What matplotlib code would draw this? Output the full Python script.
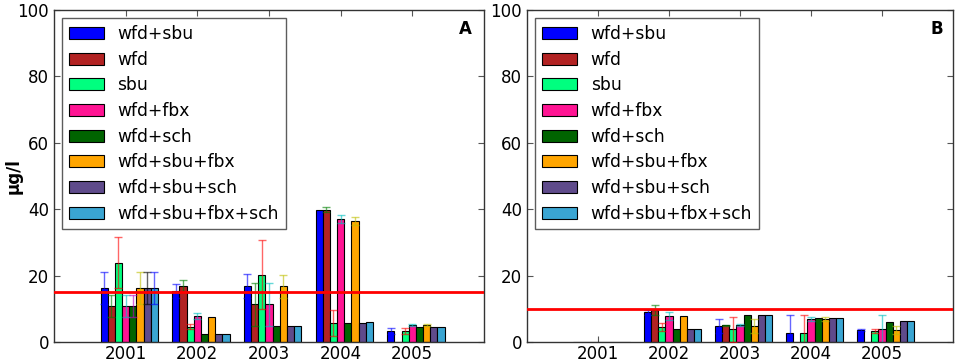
import matplotlib
matplotlib.use("Agg")
import matplotlib.pyplot as plt
import numpy as np

years = [2001, 2002, 2003, 2004, 2005]
series = ["wfd+sbu", "wfd", "sbu", "wfd+fbx", "wfd+sch",
          "wfd+sbu+fbx", "wfd+sbu+sch", "wfd+sbu+fbx+sch"]
bar_colors = ["#0000ff", "#b22222", "#00ff7f", "#ff1493", "#006400",
              "#ffa500", "#5f4b8b", "#3aa5d2"]
err_colors = ["b", "g", "r", "c", "m", "y", "k", "b"]

# Panel A values
a_wfd_sbu = [16.4, 15.4, 16.8, 39.9, 3.3]
a_wfd = [10.8, 16.9, 11.3, 39.9, 0]
a_sbu = [23.9, 4.6, 20.3, 5.6, 3.3]
a_wfd_fbx = [10.8, 7.8, 11.3, 37.1, 5.0]
a_wfd_sch = [10.8, 2.5, 4.9, 5.8, 4.5]
a_wfd_sbu_fbx = [16.4, 7.6, 16.8, 36.5, 5.0]
a_wfd_sbu_sch = [16.4, 2.5, 4.9, 5.8, 4.6]
a_all = [16.4, 2.5, 4.9, 5.9, 4.6]

a_err_wfd_sbu = [4.8, 2.0, 3.6, 0, 1.0]
a_err_wfd = [3.3, 1.9, 6.6, 0.7, 0]
a_err_sbu = [7.6, 0.8, 10.5, 3.9, 1.0]
a_err_wfd_fbx = [3.3, 1.0, 6.6, 1.2, 0.3]
a_err_wfd_sch = [3.3, 0, 0, 0, 0]
a_err_wfd_sbu_fbx = [4.8, 0, 3.5, 1.2, 0.3]
a_err_wfd_sbu_sch = [4.8, 0, 0, 0, 0]
a_err_all = [4.8, 0, 0, 0, 0]

# Panel B values
b_wfd_sbu = [0, 8.9, 4.8, 2.8, 3.6]
b_wfd = [0, 9.6, 5.0, 0, 0]
b_sbu = [0, 4.4, 3.8, 2.6, 3.4]
b_wfd_fbx = [0, 7.8, 5.0, 6.9, 3.8]
b_wfd_sch = [0, 3.9, 8.0, 7.2, 6.1]
b_wfd_sbu_fbx = [0, 7.8, 4.8, 6.9, 3.7]
b_wfd_sbu_sch = [0, 3.9, 8.0, 7.3, 6.2]
b_all = [0, 3.9, 8.0, 7.3, 6.2]

b_err_wfd_sbu = [0, 0.7, 2.1, 5.4, 0.3]
b_err_wfd = [0, 1.4, 0.2, 0, 0]
b_err_sbu = [0, 1.2, 3.8, 5.6, 0.6]
b_err_wfd_fbx = [0, 1.1, 0.3, 0.7, 4.4]
b_err_wfd_sch = [0, 0, 0, 0, 0]
b_err_wfd_sbu_fbx = [0, 0, 2.0, 0.5, 1.2]
b_err_wfd_sbu_sch = [0, 0, 0, 0, 0]
b_err_all = [0, 0, 0, 0, 0]

thresh_a = 15
thresh_b = 10

panel_a = [a_wfd_sbu, a_wfd, a_sbu, a_wfd_fbx, a_wfd_sch, a_wfd_sbu_fbx, a_wfd_sbu_sch, a_all]
panel_a_err = [a_err_wfd_sbu, a_err_wfd, a_err_sbu, a_err_wfd_fbx, a_err_wfd_sch,
               a_err_wfd_sbu_fbx, a_err_wfd_sbu_sch, a_err_all]
panel_b = [b_wfd_sbu, b_wfd, b_sbu, b_wfd_fbx, b_wfd_sch, b_wfd_sbu_fbx, b_wfd_sbu_sch, b_all]
panel_b_err = [b_err_wfd_sbu, b_err_wfd, b_err_sbu, b_err_wfd_fbx, b_err_wfd_sch,
               b_err_wfd_sbu_fbx, b_err_wfd_sbu_sch, b_err_all]

fig = plt.figure(figsize=(9.57, 3.62), dpi=100)
ax1 = fig.add_axes([0.0564, 0.0552, 0.4493, 0.9172])
ax2 = fig.add_axes([0.5507, 0.0552, 0.4451, 0.9172])

w = 0.1
yrs = np.array(years, dtype=float)

def draw(ax, vals, errs, thresh, letter, ylabel, letter_x):
    for i, (v, e) in enumerate(zip(vals, errs)):
        left = yrs - 0.35 + i * w
        ax.bar(left, v, width=w, align="edge", color=bar_colors[i],
               edgecolor="black", linewidth=0.8, label=series[i], zorder=2)
        e = np.array(e, dtype=float)
        v = np.array(v, dtype=float)
        mask = e > 0
        if mask.any():
            ax.errorbar(left[mask] + w / 2, v[mask], yerr=e[mask], fmt="none",
                        ecolor=err_colors[i], alpha=0.6, elinewidth=1.0,
                        capsize=3, capthick=1.0, zorder=3)
    ax.axhline(thresh, color="red", linewidth=2, zorder=4)
    ax.set_xlim(2000, 2006)
    ax.set_ylim(0, 100)
    ax.set_xticks(years)
    ax.set_xticklabels([str(y) for y in years])
    ax.set_yticks([0, 20, 40, 60, 80, 100])
    ax.tick_params(direction="in", top=True, right=True, labelsize=12, length=4,
                   color="#555555")
    ax.tick_params(axis="x", pad=2)
    for s in ax.spines.values():
        s.set_color("#333333")
        s.set_linewidth(1.0)
    ax.text(letter_x, 0.97, letter, transform=ax.transAxes, ha="right", va="top",
            fontsize=12, fontweight="bold")
    if ylabel:
        ax.set_ylabel(ylabel, fontsize=12, fontweight="bold")
        ax.yaxis.set_label_coords(-0.074, 0.5)
    leg = ax.legend(loc="upper left", fontsize=12.3, fancybox=False,
                    handlelength=2.05, handleheight=0.7, labelspacing=0.45,
                    borderpad=0.4, handletextpad=0.8,
                    bbox_to_anchor=(0.0, 1.0), borderaxespad=0.47)
    leg.get_frame().set_edgecolor("#333333")
    leg.get_frame().set_linewidth(1.0)

draw(ax1, panel_a, panel_a_err, thresh_a, "A", "µg/l", 0.972)
draw(ax2, panel_b, panel_b_err, thresh_b, "B", None, 0.976)

fig.savefig("out.png", dpi=100)
